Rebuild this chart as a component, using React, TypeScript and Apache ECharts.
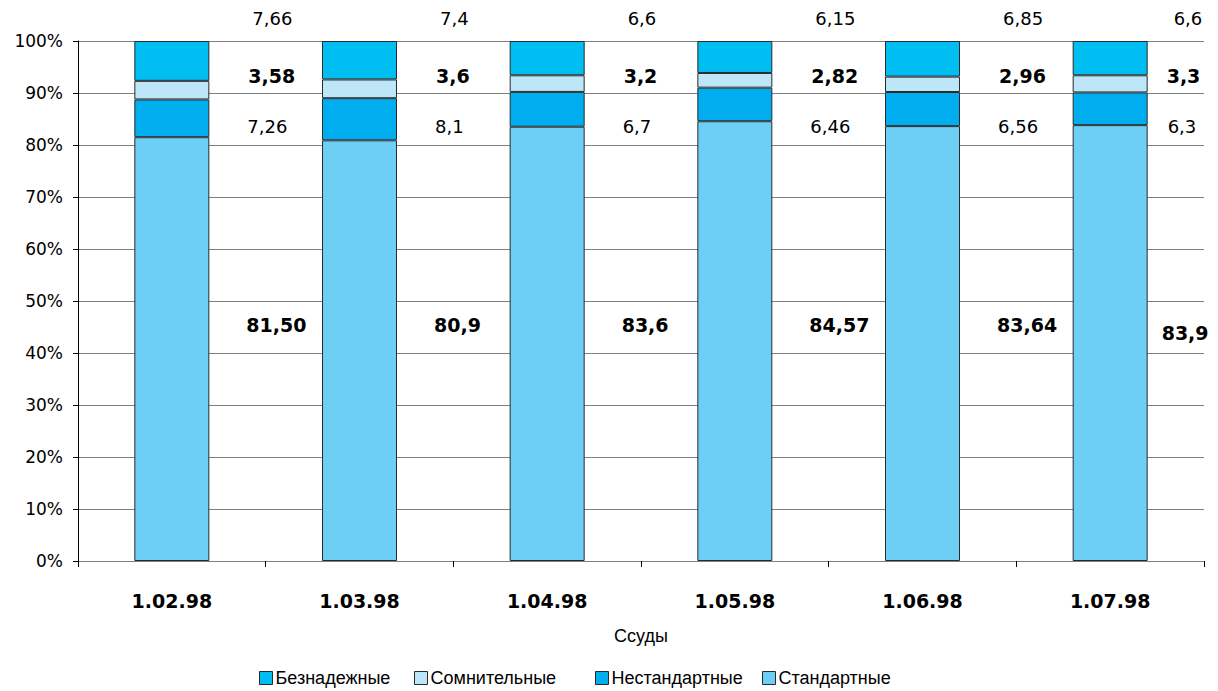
import React, { useEffect, useRef } from "react";
import * as echarts from "echarts";

const categories = ["1.02.98", "1.03.98", "1.04.98", "1.05.98", "1.06.98", "1.07.98"];
// values as printed on the chart (percent)
const standard = ["81.50", "80.9", "83.6", "84.57", "83.64", "83.9"];
const nonstandard = ["7.26", "8.1", "6.7", "6.46", "6.56", "6.3"];
const doubtful = ["3.58", "3.6", "3.2", "2.82", "2.96", "3.3"];
const hopeless = ["7.66", "7.4", "6.6", "6.15", "6.85", "6.6"];
const yTicks = [0, 10, 20, 30, 40, 50, 60, 70, 80, 90, 100];
const legendNames = ["Безнадежные", "Сомнительные", "Нестандартные", "Стандартные"];

const FONT = "'Liberation Sans', Arial, Helvetica, sans-serif";
const NUMFONT = "'DejaVu Sans', Verdana, sans-serif";
const GRID_TOP = 41;
const GRID_BOTTOM = 130;
const PLOT_H = 691 - GRID_TOP - GRID_BOTTOM;
const LEGEND_LEFTS = [254, 409, 590, 757];

export default function App() {
  const ref = useRef<HTMLDivElement>(null);
  useEffect(() => {
    if (!ref.current) return;
    const chart = echarts.init(ref.current, undefined, { renderer: "svg" });
    const seriesDefs = [
      { name: "Стандартные", vals: standard, color: "#6DCFF6", bold: true, anchor: 45.4, lastAnchor: 43.8, dist: 37, lastDist: 14 },
      { name: "Нестандартные", vals: nonstandard, color: "#00AEEF", bold: false, anchor: 83.5, lastAnchor: 83.5, dist: 38, lastDist: 20 },
      { name: "Сомнительные", vals: doubtful, color: "#BDE6F9", bold: true, anchor: 93.3, lastAnchor: 93.3, dist: 39, lastDist: 19 },
      { name: "Безнадежные", vals: hopeless, color: "#00BDF2", bold: false, anchor: 104.4, lastAnchor: 104.4, dist: 43, lastDist: 26 },
    ];
    const totals = categories.map((_, i) =>
      seriesDefs.reduce((s, d) => s + parseFloat(d.vals[i]), 0)
    );
    const cum = categories.map(() => 0);
    const pxPerPct = PLOT_H / 100;
    const series = seriesDefs.map((d) => {
      const data = d.vals.map((txt, i) => {
        const v = (parseFloat(txt) / totals[i]) * 100;
        const center = cum[i] + v / 2;
        cum[i] += v;
        const last = i === categories.length - 1;
        const anchor = last ? d.lastAnchor : d.anchor;
        return {
          value: v,
          label: {
            distance: last ? d.lastDist : d.dist,
            offset: [0, (center - anchor) * pxPerPct],
            formatter: () => txt.replace(".", ","),
          },
        };
      });
      return {
        name: d.name,
        type: "bar",
        stack: "total",
        barWidth: 75,
        data,
        itemStyle: { color: d.color, borderColor: "#2a2a2a", borderWidth: 1 },
        label: {
          show: true,
          position: "right",
          color: "#000",
          fontSize: d.bold ? 19 : 18,
          fontFamily: NUMFONT,
          fontWeight: d.bold ? "bold" : "normal",
        },
      };
    });
    const legends = legendNames.map((n, k) => ({
      data: [n],
      left: LEGEND_LEFTS[k],
      top: 664,
      itemWidth: 13,
      itemHeight: 13,
      icon: "rect",
      itemStyle: { borderColor: "#2a2a2a", borderWidth: 1 },
      textStyle: { fontSize: 18, fontFamily: FONT, color: "#000", padding: [0, 0, 0, -2] },
    }));
    chart.setOption({
      animation: false,
      grid: { left: 78, right: 14, top: GRID_TOP, bottom: GRID_BOTTOM },
      legend: legends,
      xAxis: {
        type: "category",
        data: categories,
        name: "Ссуды",
        nameLocation: "middle",
        nameGap: 66,
        nameTextStyle: { fontSize: 18, fontFamily: FONT, color: "#000", verticalAlign: "top" },
        axisLine: { lineStyle: { color: "#808080", width: 1 } },
        axisTick: { show: true, length: 6, lineStyle: { color: "#000" } },
        axisLabel: { fontSize: 19, fontWeight: "bold", fontFamily: NUMFONT, color: "#000", margin: 30 },
      },
      yAxis: {
        type: "value",
        min: yTicks[0],
        max: yTicks[yTicks.length - 1],
        interval: yTicks[1] - yTicks[0],
        axisLine: { show: true, lineStyle: { color: "#000", width: 1 } },
        axisTick: { show: true, length: 5, lineStyle: { color: "#000" } },
        axisLabel: { fontSize: 17, fontFamily: NUMFONT, color: "#000", margin: 15, formatter: (v: number) => v + "%" },
        splitLine: { show: true, lineStyle: { color: "#808080", width: 1 } },
      },
      series,
    });
    return () => chart.dispose();
  }, []);
  return (
    <div
      ref={ref}
      style={{ position: "fixed", left: 0, top: 0, width: 1218, height: 691, background: "#fff" }}
    />
  );
}
